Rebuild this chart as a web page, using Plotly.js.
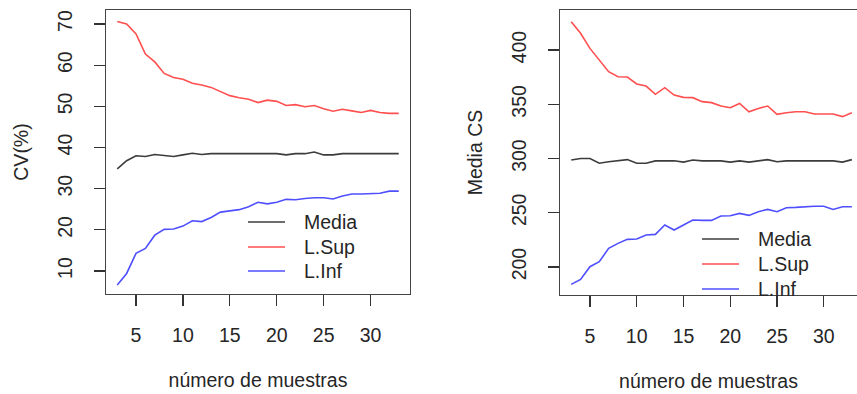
<!DOCTYPE html>
<html>
<head>
<meta charset="utf-8">
<script src="https://cdn.plot.ly/plotly-3.0.1.min.js"></script>
<style>
  html, body { margin: 0; padding: 0; background: #fff; }
  #chart { width: 857px; height: 394px; }
</style>
</head>
<body>
<div id="chart"></div>
<script>
// Number of samples (x values shared by both panels)
const nMuestras = [3, 4, 5, 6, 7, 8, 9, 10, 11, 12, 13, 14, 15, 16, 17, 18,
                   19, 20, 21, 22, 23, 24, 25, 26, 27, 28, 29, 30, 31, 32, 33];

// Left panel: coefficient of variation (%)
const cvMedia = [34.8, 36.8, 38.0, 37.8, 38.3, 38.0, 37.8, 38.2, 38.6, 38.3, 38.5,
                 38.5, 38.5, 38.5, 38.5, 38.5, 38.5, 38.5, 38.2, 38.5, 38.5, 38.9,
                 38.2, 38.2, 38.5, 38.5, 38.5, 38.5, 38.5, 38.5, 38.5];
const cvSup   = [70.6, 70.0, 67.6, 62.7, 60.8, 58.0, 57.0, 56.6, 55.6, 55.2, 54.6,
                 53.6, 52.6, 52.1, 51.7, 50.9, 51.5, 51.2, 50.2, 50.4, 49.9, 50.2,
                 49.4, 48.8, 49.3, 48.9, 48.5, 49.0, 48.5, 48.3, 48.3];
const cvInf   = [6.6, 9.4, 14.3, 15.5, 18.7, 20.1, 20.2, 20.9, 22.2, 22.0, 23.0,
                 24.3, 24.6, 24.9, 25.6, 26.7, 26.3, 26.7, 27.4, 27.3, 27.6, 27.8,
                 27.8, 27.5, 28.2, 28.7, 28.7, 28.8, 28.9, 29.4, 29.4];

// Right panel: mean CS
const csMedia = [298.6, 300.0, 300.0, 295.6, 297.0, 298.0, 299.0, 295.6, 295.6, 297.8, 298.0,
                 298.0, 296.7, 298.6, 297.8, 297.8, 297.8, 296.7, 297.8, 296.7, 298.0, 299.0,
                 297.0, 297.8, 297.8, 297.8, 297.8, 297.8, 297.8, 296.7, 299.0];
const csSup   = [426.1, 415.4, 401.5, 390.8, 380.0, 375.4, 375.1, 368.7, 366.8, 359.2, 365.3,
                 358.5, 356.4, 356.1, 352.4, 351.5, 348.4, 346.8, 350.8, 343.1, 346.2, 348.4,
                 340.7, 342.2, 343.1, 343.1, 341.0, 341.0, 341.0, 338.6, 342.2];
const csInf   = [184.0, 188.6, 200.3, 204.9, 217.2, 221.8, 225.5, 225.8, 229.5, 230.1, 238.7,
                 234.1, 238.7, 243.3, 243.0, 243.0, 247.0, 247.3, 249.4, 247.6, 251.0, 253.1,
                 251.0, 254.7, 255.0, 255.6, 256.0, 256.0, 253.1, 255.6, 255.6];

const seriesNames  = ['Media', 'L.Sup', 'L.Inf'];
const seriesColors = ['#3c3c3c', '#ff4f4f', '#4f4fff'];
const xTitle = 'número de muestras';
const yTitles = ['CV(%)', 'Media CS'];
const xTicks = [5, 10, 15, 20, 25, 30];
const yTicksCV = [10, 20, 30, 40, 50, 60, 70];
const yTicksCS = [200, 250, 300, 350, 400];

const W = 857, H = 394;
const px = v => v / W;
const py = v => 1 - v / H;
const FONT = 'Liberation Sans, Arial, sans-serif';
const INK = '#262626';
const FS = 19.5;

const panels = [
  { xa: 'x',  ya: 'y',  series: [cvMedia, cvSup, cvInf] },
  { xa: 'x2', ya: 'y2', series: [csMedia, csSup, csInf] }
];

const traces = [];
panels.forEach(p => {
  p.series.forEach((vals, i) => {
    traces.push({
      x: nMuestras, y: vals, xaxis: p.xa, yaxis: p.ya,
      type: 'scatter', mode: 'lines', name: seriesNames[i],
      line: { color: seriesColors[i], width: 1.6 },
      showlegend: false, hoverinfo: 'skip'
    });
  });
});

function xAxis(domain, range, anchor) {
  return {
    domain: domain, range: range, anchor: anchor,
    tickmode: 'array', tickvals: xTicks, ticktext: xTicks.map(String),
    ticks: 'outside', ticklen: 11, tickwidth: 1.2, tickcolor: '#333',
    ticklabelstandoff: 12,
    showline: true, linecolor: '#444', linewidth: 1.3, mirror: true,
    showgrid: false, zeroline: false,
    tickfont: { family: FONT, size: FS, color: INK },
    title: { text: xTitle, standoff: 28, font: { family: FONT, size: FS, color: INK } }
  };
}
function yAxis(domain, range, ticks, anchor, title, mirror) {
  return {
    domain: domain, range: range, anchor: anchor,
    tickmode: 'array', tickvals: ticks, ticktext: ticks.map(String),
    tickangle: -90,
    ticks: 'outside', ticklen: 11, tickwidth: 1.2, tickcolor: '#333',
    ticklabelstandoff: 14,
    showline: true, linecolor: '#444', linewidth: 1.3, mirror: mirror,
    showgrid: false, zeroline: false,
    tickfont: { family: FONT, size: FS, color: INK },
    title: { text: title, standoff: 20, font: { family: FONT, size: FS, color: INK } }
  };
}

// Hand-drawn keys: a short line and a label for each series, inside each panel
const legendSpec = [
  { lineX: [248, 285], textX: 302, rows: [222, 247, 271] },
  { lineX: [702, 739], textX: 756, rows: [239, 264, 289] }
];
const shapes = [];
const annotations = [];
legendSpec.forEach(spec => {
  seriesNames.forEach((name, i) => {
    shapes.push({
      type: 'line', xref: 'paper', yref: 'paper',
      x0: px(spec.lineX[0]), x1: px(spec.lineX[1]),
      y0: py(spec.rows[i]), y1: py(spec.rows[i]),
      line: { color: seriesColors[i], width: 1.6 }
    });
    annotations.push({
      xref: 'paper', yref: 'paper', x: px(spec.textX), y: py(spec.rows[i]),
      xanchor: 'left', yanchor: 'middle', showarrow: false, text: name,
      font: { family: FONT, size: FS, color: INK }
    });
  });
});

const layout = {
  width: W, height: H,
  margin: { l: 0, r: 0, t: 0, b: 0 },
  paper_bgcolor: '#fff', plot_bgcolor: '#fff',
  showlegend: false,
  xaxis:  xAxis([px(106), px(410)], [1.8, 34.2], 'y'),
  yaxis:  yAxis([py(294), py(10)], [4.41, 73.4], yTicksCV, 'x', yTitles[0], true),
  xaxis2: xAxis([px(560), 1], [1.8, 33.55], 'y2'),
  // right panel runs off the edge, so its frame is open on the right
  yaxis2: yAxis([py(295), py(10)], [174.2, 436.9], yTicksCS, 'x2', yTitles[1], false),
  shapes: shapes,
  annotations: annotations
};

Plotly.newPlot('chart', traces, layout, { displayModeBar: false, staticPlot: true });
</script>
</body>
</html>
